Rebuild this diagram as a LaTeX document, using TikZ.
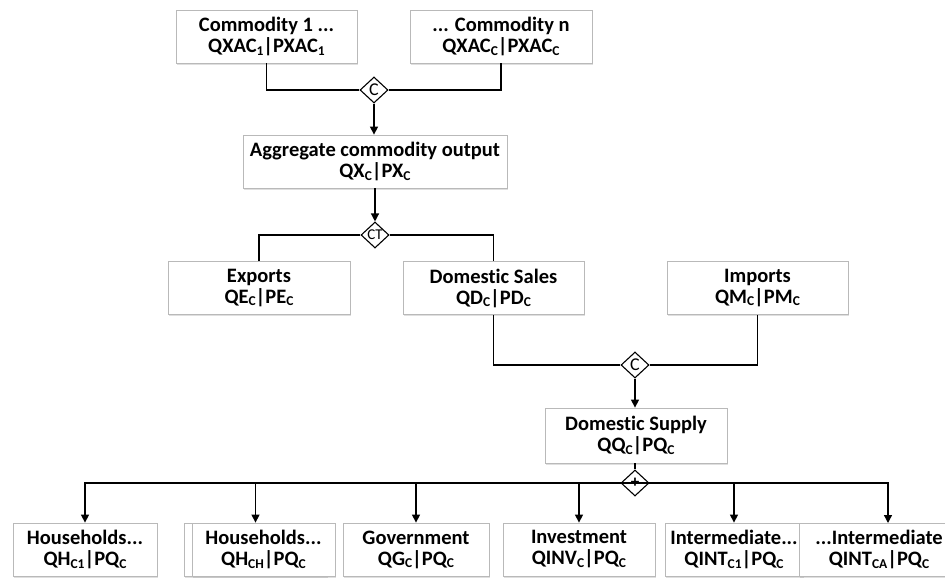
\documentclass[tikz,border=0pt]{standalone}
\usepackage{fontspec}
\setmainfont{Carlito}[Ligatures=NoCommon]
\usetikzlibrary{arrows.meta,shapes.geometric,shadows}
\newcommand{\lsb}[1]{\raisebox{-2.5pt}{\fontsize{13.5}{13.5}\selectfont #1}}
\begin{document}
\begin{tikzpicture}[x=1pt,y=-1pt,
  box/.style={draw=gray!55, fill=white, line width=0.8pt, align=center,
    font=\fontsize{20.5}{21}\selectfont\bfseries, inner sep=0pt, minimum height=53pt,
    drop shadow={shadow xshift=1.2pt, shadow yshift=-1.5pt, opacity=0.25}},
  dia/.style={diamond, draw=black, fill=white, line width=1.1pt, inner sep=0pt,
    shape aspect=1.1, minimum width=28pt, minimum height=26pt},
  dtxt/.style={font=\fontsize{18}{18}\selectfont},
  conn/.style={line width=1.3pt},
  arr/.style={conn, -{Triangle[length=8pt,width=8pt]}}]
\useasboundingbox (0,0) rectangle (945,579);

\node[box, minimum width=181pt] (c1) at (266.5,36.5) {Commodity 1 ...\\QXAC\lsb{1}|PXAC\lsb{1}};
\node[box, minimum width=182pt] (cn) at (501,36.5) {... Commodity n\\QXAC\lsb{C}|PXAC\lsb{C}};
\node[dia, dtxt] (dC1) at (374,90) {C};
\node[box, minimum width=264pt] (agg) at (375,161.5) {Aggregate commodity output\\QX\lsb{C}|PX\lsb{C}};
\node[dia, font=\fontsize{15}{15}\selectfont, inner sep=-3pt] (dCT) at (375,235) {CT};
\node[box, minimum width=182pt] (exp) at (259,288) {Exports\\QE\lsb{C}|PE\lsb{C}};
\node[box, minimum width=181pt] (dom) at (493.5,288) {Domestic Sales\\QD\lsb{C}|PD\lsb{C}};
\node[box, minimum width=181pt] (imp) at (757.5,288) {Imports\\QM\lsb{C}|PM\lsb{C}};
\node[dia, dtxt] (dC2) at (635,365) {C};
\node[box, minimum width=182pt, minimum height=55pt] (sup) at (636,435.5) {Domestic Supply\\QQ\lsb{C}|PQ\lsb{C}};
\node[dia, font=\fontsize{17}{17}\selectfont\bfseries] (dP) at (635,483) {+};

\node[box, minimum width=144pt] (h1) at (85,549.5) {Households...\\QH\lsb{C1}|PQ\lsb{C}};
\node[box, minimum width=143pt] (h2b) at (255.5,549.5) {};
\node[box, minimum width=143pt] (h2) at (263.5,549.5) {Households...\\QH\lsb{CH}|PQ\lsb{C}};
\node[box, minimum width=146pt] (gov) at (416,549.5) {Government\\QG\lsb{C}|PQ\lsb{C}};
\node[box, minimum width=152pt] (inv) at (579,549.5) {Investment\\QINV\lsb{C}|PQ\lsb{C}};
\node[box, minimum width=138pt] (int1) at (734,549.5) {Intermediate...\\QINT\lsb{C1}|PQ\lsb{C}};
\node[box, minimum width=160pt] (int2) at (879,549.5) {...Intermediate\\QINT\lsb{CA}|PQ\lsb{C}};
\coordinate (int2top) at (888,523);

\draw[conn] (c1.south) |- (dC1.west);
\draw[conn] (cn.south) |- (dC1.east);
\draw[arr] (dC1.south) -- (dC1.south |- agg.north);
\draw[arr] (agg.south) -- (dCT.north);
\draw[conn] (dCT.west) -| (exp.north);
\draw[conn] (dCT.east) -| (dom.north);
\draw[conn] (dom.south) |- (dC2.west);
\draw[conn] (imp.south) |- (dC2.east);
\draw[arr] (dC2.south) -- (dC2.south |- sup.north);
\draw[conn] (dP.north |- sup.south) -- (dP.north);
\draw[arr] (dP.west) -| (h1.north);
\draw[arr] (dP.west) -| (h2b.north);
\draw[arr] (dP.west) -| (gov.north);
\draw[arr] (dP.east) -| (inv.north);
\draw[arr] (dP.east) -| (int1.north);
\draw[arr] (dP.east) -| (int2top);
\end{tikzpicture}
\end{document}
